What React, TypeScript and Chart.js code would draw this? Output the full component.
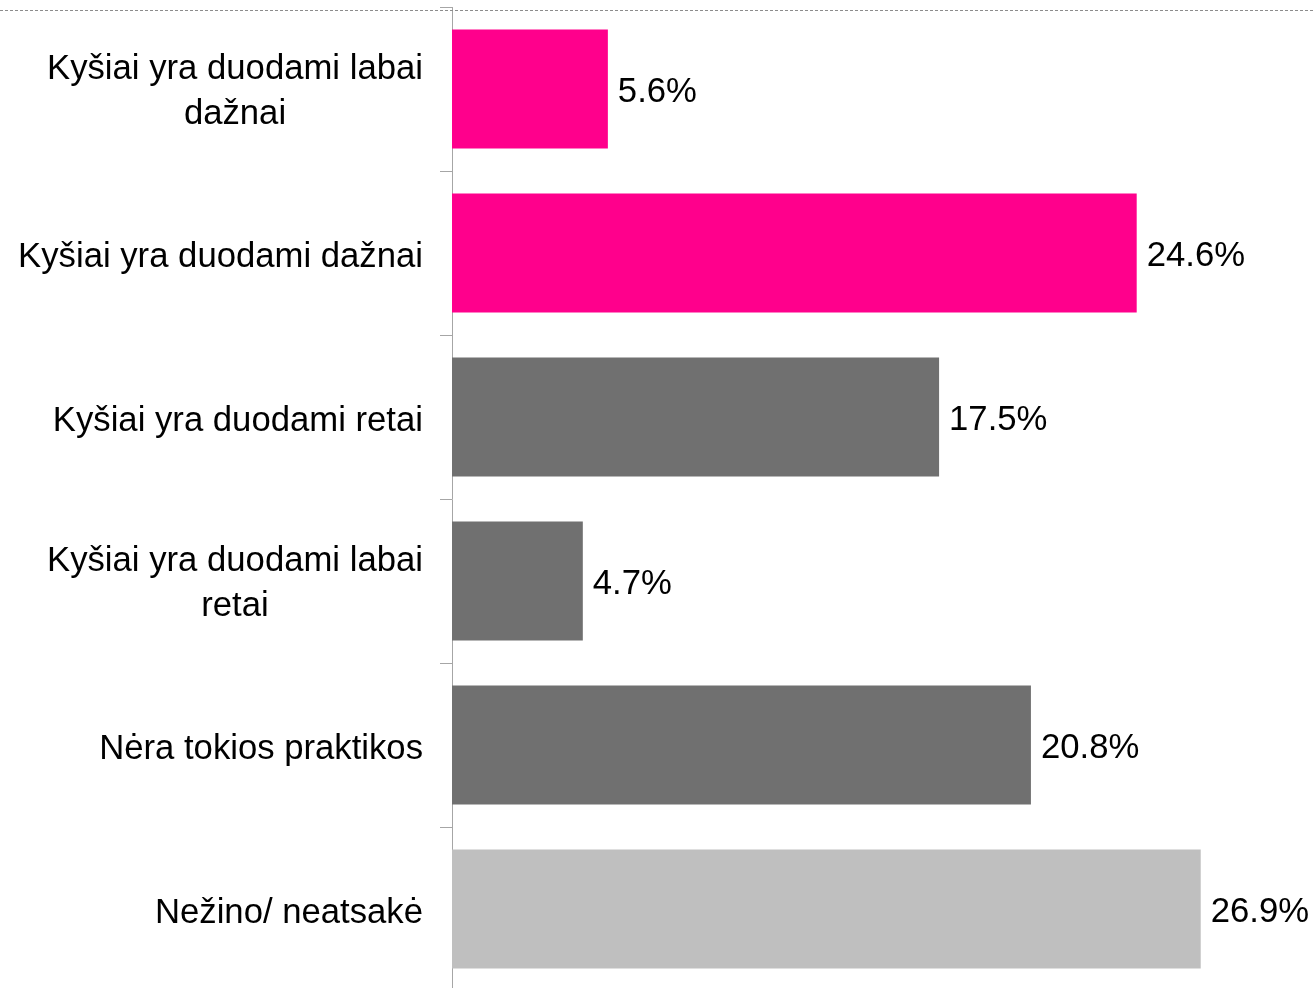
import React, { useEffect, useRef } from "react";
import { Chart, registerables } from "chart.js";

Chart.register(...registerables);

const categories: string[][] = [
  ["Kyšiai yra duodami labai", "dažnai"],
  ["Kyšiai yra duodami dažnai"],
  ["Kyšiai yra duodami retai"],
  ["Kyšiai yra duodami labai", "retai"],
  ["Nėra tokios praktikos"],
  ["Nežino/ neatsakė"],
];
const values: number[] = [5.6, 24.6, 17.5, 4.7, 20.8, 26.9];
const barColors: string[] = ["#FF008C", "#FF008C", "#707070", "#707070", "#707070", "#BFBFBF"];

const FONT = "34.7px 'Liberation Sans', Arial, sans-serif";

const labelsPlugin = {
  id: "customLabels",
  afterDraw(chart: any) {
    const ctx = chart.ctx;
    const yScale = chart.scales.y;
    ctx.save();
    ctx.font = FONT;
    ctx.fillStyle = "#000";
    ctx.textBaseline = "alphabetic";
    const right = 423;
    categories.forEach((lines, i) => {
      const cy = yScale.getPixelForValue(i);
      const widest = Math.max(...lines.map((l) => ctx.measureText(l).width));
      const center = right - widest / 2;
      if (lines.length === 1) {
        ctx.textAlign = "right";
        ctx.fillText(lines[0], right, cy + 14);
      } else {
        ctx.textAlign = "center";
        ctx.fillText(lines[0], center, cy - 10);
        ctx.fillText(lines[1], center, cy + 35);
      }
    });
    // value labels
    const meta = chart.getDatasetMeta(0);
    ctx.textAlign = "left";
    meta.data.forEach((bar: any, i: number) => {
      ctx.fillText(values[i].toFixed(1) + "%", bar.x + 10, bar.y + 13);
    });
    // dotted top border
    ctx.strokeStyle = "#8C8C8C";
    ctx.lineWidth = 1;
    ctx.setLineDash([3, 2]);
    ctx.beginPath();
    ctx.moveTo(0, 10.5);
    ctx.lineTo(chart.width, 10.5);
    ctx.stroke();
    ctx.restore();
  },
};

export default function App() {
  const ref = useRef<HTMLCanvasElement | null>(null);
  useEffect(() => {
    if (!ref.current) return;
    const chart = new Chart(ref.current, {
      type: "bar",
      data: {
        labels: categories.map((c) => c.join(" ")),
        datasets: [
          {
            data: values,
            backgroundColor: barColors,
            borderWidth: 0,
            categoryPercentage: 1,
            barPercentage: 0.725,
          },
        ],
      },
      options: {
        indexAxis: "y",
        animation: false,
        responsive: false,
        maintainAspectRatio: false,
        layout: { padding: { left: 0, right: 26, top: 7, bottom: 9 } },
        plugins: { legend: { display: false }, tooltip: { enabled: false } },
        scales: {
          x: { display: false, min: 0, max: 30 },
          y: {
            afterFit: (scale: any) => {
              scale.width = 452;
            },
            ticks: { display: false },
            grid: {
              offset: true,
              drawOnChartArea: false,
              drawTicks: true,
              tickLength: 12,
              color: "#A6A6A6",
              lineWidth: 1,
            },
            border: { display: true, color: "#A6A6A6", width: 1 },
          },
        },
      },
      plugins: [labelsPlugin],
    });
    return () => chart.destroy();
  }, []);
  return (
    <div style={{ position: "fixed", left: 0, top: 0, width: 1313, height: 988, overflow: "hidden", background: "#fff" }}>
      <canvas ref={ref} width={1313} height={1000} style={{ display: "block" }} />
    </div>
  );
}
